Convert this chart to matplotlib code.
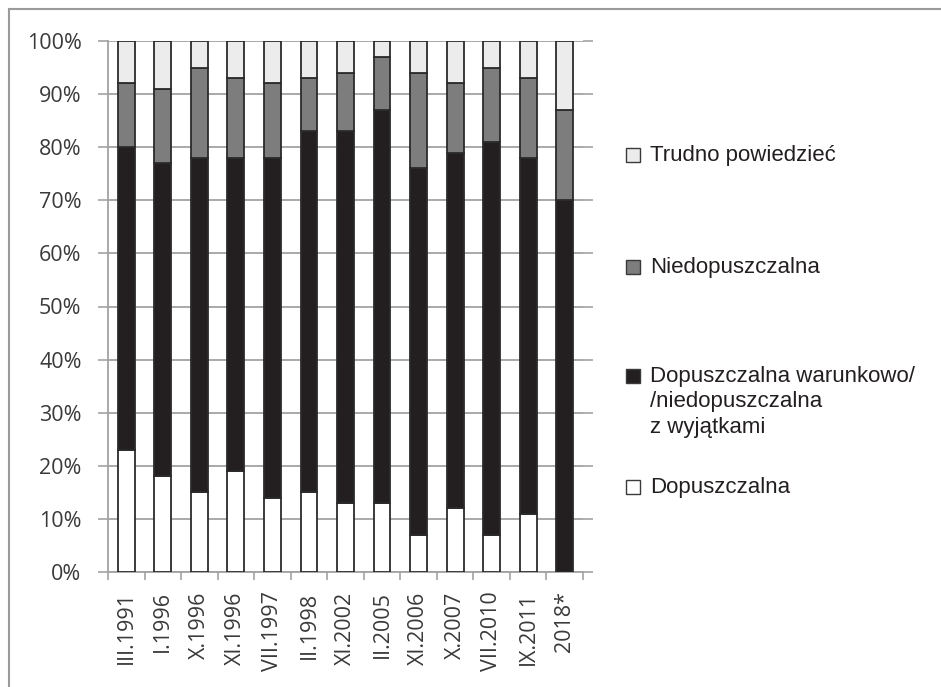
import numpy as np
import matplotlib
matplotlib.use("Agg")
import matplotlib.pyplot as plt
from matplotlib.lines import Line2D
from matplotlib.patches import Rectangle

# data (percent)
categories = ['III.1991', 'I.1996', 'X.1996', 'XI.1996', 'VII.1997', 'II.1998',
              'XI.2002', 'II.2005', 'XI.2006', 'X.2007', 'VII.2010', 'IX.2011', '2018*']
dopuszczalna = [23, 18, 15, 19, 14, 15, 13, 13, 7, 12, 7, 11, 0]
warunkowo = [57, 59, 63, 59, 64, 68, 70, 74, 69, 67, 74, 67, 70]
niedopuszczalna = [12, 14, 17, 15, 14, 10, 11, 10, 18, 13, 14, 15, 17]
trudno = [8, 9, 5, 7, 8, 7, 6, 3, 6, 8, 5, 7, 13]

series_names = ['Dopuszczalna',
                'Dopuszczalna warunkowo/\n/niedopuszczalna\nz wyjątkami',
                'Niedopuszczalna',
                'Trudno powiedzieć']
series_colors = ['#ffffff', '#231f20', '#7d7d7d', '#ececec']

W, H = 941, 687
fig = plt.figure(figsize=(W / 100, H / 100), dpi=100)
ax = fig.add_axes([108 / W, 1 - 572 / H, 475 / W, 531 / H])

x = np.arange(len(categories))
edge = '#2b2b2b'
bottom = np.zeros(len(categories))
for vals, col in zip([dopuszczalna, warunkowo, niedopuszczalna, trudno], series_colors):
    v = np.array(vals) / 100.0
    ax.bar(x, v, bottom=bottom, width=0.46, color=col, edgecolor=edge,
           linewidth=1.3, zorder=3)
    bottom += v

grid_c = '#a3a3a3'
ax.set_xlim(-0.5, len(categories) - 0.5)
ax.set_ylim(0, 1)
ax.set_yticks(np.arange(0, 1.01, 0.1))
ax.set_yticklabels([f'{int(round(t * 100))}%' for t in np.arange(0, 1.01, 0.1)])
ax.yaxis.grid(True, color=grid_c, linewidth=1.3, zorder=0)
ax.set_axisbelow(True)

ax.set_xticks(x)
ax.set_xticklabels(categories, rotation=90, va='top', ha='center')
ax.set_xticks(np.arange(-0.5, len(categories)), minor=True)
ax.tick_params(axis='x', which='major', length=0, pad=14)
ax.tick_params(axis='x', which='minor', length=6, color=grid_c, width=1.2)
ax.tick_params(axis='y', which='major', length=7, color=grid_c, width=1.2, pad=12,
               right=True)

for lab in ax.get_xticklabels() + ax.get_yticklabels():
    lab.set_fontfamily('Open Sans')
    lab.set_fontsize(15.5)
    lab.set_color('#3a3a3a')

for s in ['top', 'right']:
    ax.spines[s].set_visible(False)
for s in ['left', 'bottom']:
    ax.spines[s].set_color(grid_c)
    ax.spines[s].set_linewidth(1.3)

# legend drawn by hand to follow the uneven spacing of the original
legend_y = [487, 376, 267, 155]  # pixel rows of the first text line (from top)
for name, col, yp in zip(series_names, series_colors, legend_y):
    fig.patches.append(Rectangle((626 / W, 1 - (yp + 7) / H), 14 / W, 14 / H,
                                 transform=fig.transFigure, facecolor=col,
                                 edgecolor='#3a3a3a', linewidth=1.0))
    fig.text(650 / W, 1 - (yp - 10) / H, name, fontsize=16, family='Liberation Sans',
             color='#231f20', va='top', ha='left', linespacing=1.27)

# outer frame
fig.add_artist(Line2D([9 / W, 9 / W], [0, 1 - 9 / H], transform=fig.transFigure,
                      color='#9a9a9a', linewidth=1.5))
fig.add_artist(Line2D([9 / W, 1], [1 - 9 / H, 1 - 9 / H], transform=fig.transFigure,
                      color='#9a9a9a', linewidth=1.5))

fig.savefig('out.png', dpi=100)
